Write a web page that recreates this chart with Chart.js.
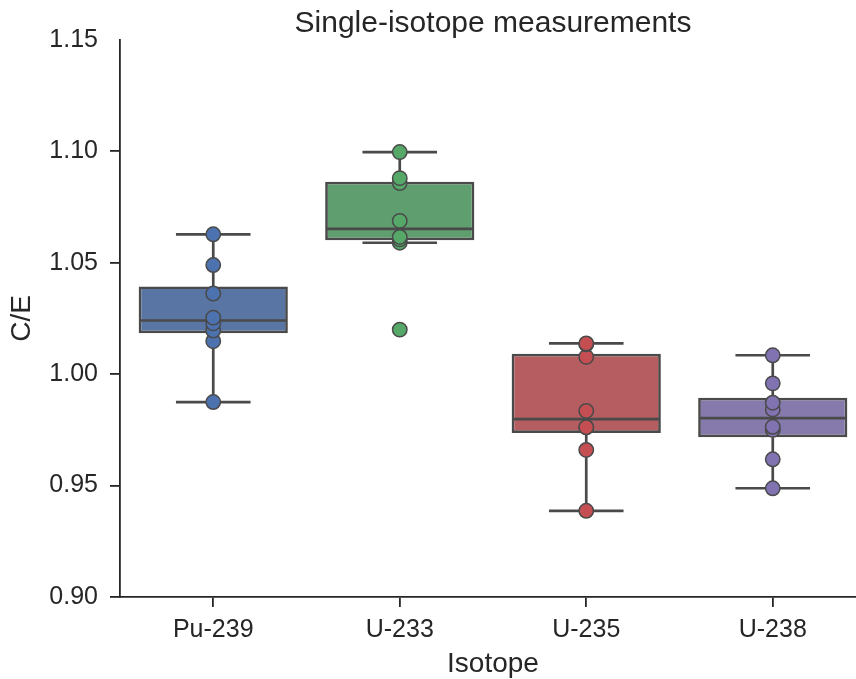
<!DOCTYPE html>
<html>
<head>
<meta charset="utf-8">
<script src="https://cdn.jsdelivr.net/npm/chart.js@4"></script>
<style>
  html, body { margin: 0; padding: 0; overflow: hidden; background: #fff; }
  #box { position: absolute; left: 0; top: 0; }
</style>
</head>
<body>
<canvas id="box" width="866" height="679"></canvas>
<script>
// C/E values per isotope
const isotopes = ['Pu-239', 'U-233', 'U-235', 'U-238'];
const pu239 = [0.9875, 1.0148, 1.0196, 1.0228, 1.0254, 1.0362, 1.0490, 1.0628];
const u233  = [1.0200, 1.0590, 1.0605, 1.0616, 1.0688, 1.0858, 1.0880, 1.0997];
const u235  = [0.9387, 0.9660, 0.9761, 0.9762, 0.9835, 1.0078, 1.0134, 1.0138];
const u238  = [0.9488, 0.9618, 0.9750, 0.9764, 0.9842, 0.9872, 0.9959, 1.0085];
const yTicks = [0.90, 0.95, 1.00, 1.05, 1.10, 1.15];

const groups = [pu239, u233, u235, u238];
const pointColors = ['#4C72B0', '#55A868', '#C44E52', '#8172B2'];
const boxColors = ['#5875a4', '#5f9e6e', '#b55d60', '#857aab'];
const lineGray = '#4a4a4a';
const axisColor = '#262626';
const fontFamily = "'Liberation Sans', Arial, sans-serif";

// numpy-style linear percentile
function quantile(sorted, p) {
    const pos = (sorted.length - 1) * p;
    const lo = Math.floor(pos), hi = Math.ceil(pos);
    return sorted[lo] + (sorted[hi] - sorted[lo]) * (pos - lo);
}

const stats = groups.map(vals => {
    const s = vals.slice().sort((a, b) => a - b);
    const q1 = quantile(s, 0.25), med = quantile(s, 0.5), q3 = quantile(s, 0.75);
    const iqr = q3 - q1;
    const inside = s.filter(v => v >= q1 - 1.5 * iqr && v <= q3 + 1.5 * iqr);
    return { q1: q1, med: med, q3: q3, lo: inside[0], hi: inside[inside.length - 1] };
});

// whiskers, caps and medians, drawn right after the boxes
const whiskerPlugin = {
    id: 'whiskers',
    afterDatasetDraw(chart, args) {
        if (args.index !== 0) return;
        const ctx = chart.ctx;
        const y = chart.scales.y;
        const meta = chart.getDatasetMeta(0);
        ctx.save();
        ctx.strokeStyle = lineGray;
        ctx.lineWidth = 2.7;
        stats.forEach((s, i) => {
            const bar = meta.data[i];
            const cx = bar.x;
            const half = bar.width / 2;
            const cap = half / 2;
            const line = (x1, y1, x2, y2) => {
                ctx.beginPath();
                ctx.moveTo(x1, y1);
                ctx.lineTo(x2, y2);
                ctx.stroke();
            };
            line(cx, y.getPixelForValue(s.q3), cx, y.getPixelForValue(s.hi));
            line(cx, y.getPixelForValue(s.q1), cx, y.getPixelForValue(s.lo));
            line(cx - cap, y.getPixelForValue(s.hi), cx + cap, y.getPixelForValue(s.hi));
            line(cx - cap, y.getPixelForValue(s.lo), cx + cap, y.getPixelForValue(s.lo));
            line(cx - half + 1.3, y.getPixelForValue(s.med), cx + half - 1.3, y.getPixelForValue(s.med));
        });
        ctx.restore();
    }
};

const datasets = [{
    type: 'bar',
    data: stats.map(s => [s.q1, s.q3]),
    backgroundColor: boxColors,
    borderColor: lineGray,
    borderWidth: 2.7,
    borderSkipped: false,
    barPercentage: 0.8,
    categoryPercentage: 1.0,
    order: 5
}];
groups.forEach((vals, i) => {
    datasets.push({
        type: 'line',
        showLine: false,
        data: vals.map(v => ({ x: isotopes[i], y: v })),
        pointRadius: 7.2,
        pointBackgroundColor: pointColors[i],
        pointBorderColor: lineGray,
        pointBorderWidth: 1.5,
        order: 0
    });
});

const ctx = document.getElementById('box').getContext('2d');
const myChart = new Chart(ctx, {
    data: { labels: isotopes, datasets: datasets },
    plugins: [whiskerPlugin],
    options: {
        responsive: false,
        animation: false,
        layout: { padding: 0, autoPadding: false },
        plugins: {
            legend: { display: false },
            tooltip: { enabled: false },
            title: {
                display: true,
                text: 'Single-isotope measurements',
                fullSize: false,
                color: axisColor,
                font: { family: fontFamily, size: 30, weight: 'normal' },
                padding: { top: 6, bottom: -2 }
            }
        },
        scales: {
            x: {
                type: 'category',
                offset: true,
                afterFit: scale => {
                    scale.height = 82;
                    scale.paddingLeft = 0;
                    scale.paddingRight = 0;
                },
                grid: { offset: false, drawOnChartArea: false, drawTicks: true, tickLength: 10, color: axisColor, lineWidth: 1.8 },
                border: { display: true, color: axisColor, width: 1.8 },
                ticks: { color: axisColor, padding: 8, font: { family: fontFamily, size: 25 } },
                title: {
                    display: true, text: 'Isotope', color: axisColor,
                    font: { family: fontFamily, size: 28 },
                    padding: { top: 0, bottom: -2 }
                }
            },
            y: {
                min: 0.9,
                max: 1.15,
                afterFit: scale => { scale.width = 120; },
                afterBuildTicks: scale => { scale.ticks = yTicks.map(v => ({ value: v })); },
                grid: {
                    drawOnChartArea: false, drawTicks: true, tickLength: 10, lineWidth: 1.8,
                    color: c => (c.tick && c.tick.value === 1.15) ? 'rgba(0,0,0,0)' : axisColor
                },
                border: { display: true, color: axisColor, width: 1.8 },
                ticks: {
                    color: axisColor, padding: 12,
                    font: { family: fontFamily, size: 25 },
                    callback: v => Number(v).toFixed(2)
                },
                title: {
                    display: true, text: 'C/E', color: axisColor,
                    font: { family: fontFamily, size: 28 },
                    padding: { top: 5, bottom: 0 }
                }
            }
        }
    }
});
</script>
</body>
</html>
